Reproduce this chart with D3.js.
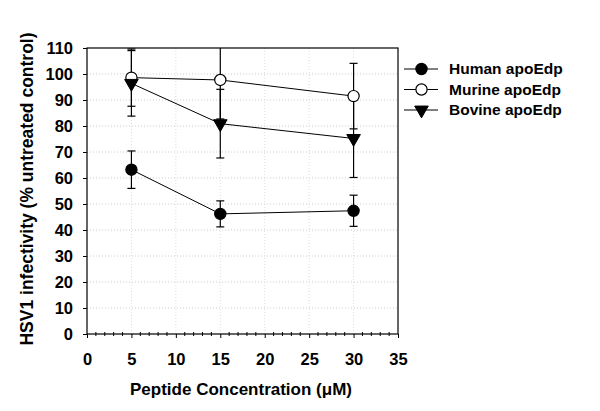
<!DOCTYPE html>
<html><head><meta charset="utf-8">
<script src="https://cdn.jsdelivr.net/npm/d3@7"></script>
<style>body{margin:0;background:#fff}text{font-family:"Liberation Sans",Arial,sans-serif;font-weight:bold;fill:#000}</style>
</head><body><svg id="c" width="600" height="411"></svg>
<script>
const concentrations = [5, 15, 30];
const humanValues = [63.2, 46.2, 47.4];
const humanErrors = [7.2, 5.0, 6.0];
const murineValues = [98.6, 97.7, 91.5];
const murineErrors = [11, 15, 12.6];
const bovineValues = [96.4, 80.9, 75.2];
const bovineErrors = [12.6, 13.2, 15];
const xTicks = [0, 5, 10, 15, 20, 25, 30, 35];
const yTicks = [0, 10, 20, 30, 40, 50, 60, 70, 80, 90, 100, 110];
const seriesNames = ["Human apoEdp", "Murine apoEdp", "Bovine apoEdp"];

const series = [
  {name: seriesNames[0], vals: humanValues, errs: humanErrors, shape: "circle", fill: "#000"},
  {name: seriesNames[1], vals: murineValues, errs: murineErrors, shape: "circle", fill: "#fff"},
  {name: seriesNames[2], vals: bovineValues, errs: bovineErrors, shape: "tri", fill: "#000"}
];

const svg = d3.select("#c");
const L = 87, R = 398, T = 48, B = 334;
const x = d3.scaleLinear().domain([0, 35]).range([L, R]);
const y = d3.scaleLinear().domain([0, 110]).range([B, T]);

// grid
const g = svg.append("g");
g.selectAll("line.hg").data(yTicks.slice(1, -1)).join("line")
  .attr("x1", L).attr("x2", R).attr("y1", d => y(d)).attr("y2", d => y(d))
  .attr("stroke", "#ccc").attr("stroke-width", 1).attr("stroke-dasharray", "1,2");
g.selectAll("line.vg").data(xTicks.slice(1, -1)).join("line")
  .attr("y1", T).attr("y2", B).attr("x1", d => x(d)).attr("x2", d => x(d))
  .attr("stroke", "#ddd").attr("stroke-width", 1).attr("stroke-dasharray", "1,2");

// frame
svg.append("rect").attr("x", L).attr("y", T).attr("width", R - L).attr("height", B - T)
  .attr("fill", "none").attr("stroke", "#000").attr("stroke-width", 1.2);

// axes
const xAxis = svg.append("g").attr("transform", `translate(0,${B})`)
  .call(d3.axisBottom(x).tickValues(xTicks).tickSize(4).tickPadding(15).tickFormat(d3.format("d")));
xAxis.select(".domain").remove();
xAxis.selectAll("text").style("font-size", "16.5px").attr("dy", "0.71em");
const minor = d3.range(1, 35).filter(d => d % 5 !== 0);
svg.append("g").selectAll("line").data(minor).join("line")
  .attr("x1", d => x(d)).attr("x2", d => x(d)).attr("y1", B - 2).attr("y2", B + 2)
  .attr("stroke", "#000").attr("stroke-width", 1);

const yAxis = svg.append("g").attr("transform", `translate(${L},0)`)
  .call(d3.axisLeft(y).tickValues(yTicks).tickSize(4).tickPadding(10));
yAxis.select(".domain").remove();
yAxis.selectAll("text").style("font-size", "16.5px");

svg.append("text").attr("x", 241).attr("y", 395).attr("text-anchor", "middle")
  .style("font-size", "17px").text("Peptide Concentration (\u03BCM)");
svg.append("text").attr("transform", "translate(33,189) rotate(-90)").attr("text-anchor", "middle")
  .style("font-size", "17.5px").text("HSV1 infectivity (% untreated control)");

// clip
svg.append("clipPath").attr("id", "pc").append("rect").attr("x", L).attr("y", T).attr("width", R - L).attr("height", B - T);
const plot = svg.append("g").attr("clip-path", "url(#pc)");

const line = d3.line().x((d, i) => x(concentrations[i])).y(d => y(d));
const tri = d3.symbol().type(d3.symbolTriangle).size(80);

function marker(sel, s) {
  if (s.shape === "circle") {
    sel.append("circle").attr("r", 5.6).attr("fill", s.fill).attr("stroke", "#000").attr("stroke-width", 1.2);
  } else {
    sel.append("path").attr("d", tri).attr("transform", "rotate(180)").attr("fill", "#000").attr("stroke", "#000");
  }
}

series.forEach(s => {
  const sg = plot.append("g");
  s.vals.forEach((v, i) => {
    const cx = x(concentrations[i]);
    const hi = y(v + s.errs[i]), lo = y(v - s.errs[i]);
    sg.append("line").attr("x1", cx).attr("x2", cx).attr("y1", hi).attr("y2", lo).attr("stroke", "#000").attr("stroke-width", 1.2);
    [hi, lo].forEach(yy => sg.append("line").attr("x1", cx - 4).attr("x2", cx + 4).attr("y1", yy).attr("y2", yy).attr("stroke", "#000").attr("stroke-width", 1.2));
  });
});
series.forEach(s => {
  plot.append("path").datum(s.vals).attr("d", line).attr("fill", "none").attr("stroke", "#000").attr("stroke-width", 1);
});
series.forEach(s => {
  s.vals.forEach((v, i) => {
    const m = plot.append("g").attr("transform", `translate(${x(concentrations[i])},${y(v)})`);
    marker(m, s);
  });
});

// legend
const leg = svg.append("g");
series.forEach((s, i) => {
  const ly = 69 + i * 20.5;
  leg.append("line").attr("x1", 404).attr("x2", 438).attr("y1", ly).attr("y2", ly).attr("stroke", "#000").attr("stroke-width", 1);
  const m = leg.append("g").attr("transform", `translate(421.5,${ly})`);
  marker(m, s);
  leg.append("text").attr("x", 449).attr("y", ly).attr("dy", "0.35em").style("font-size", "15.5px").text(s.name);
});
</script></body></html>
